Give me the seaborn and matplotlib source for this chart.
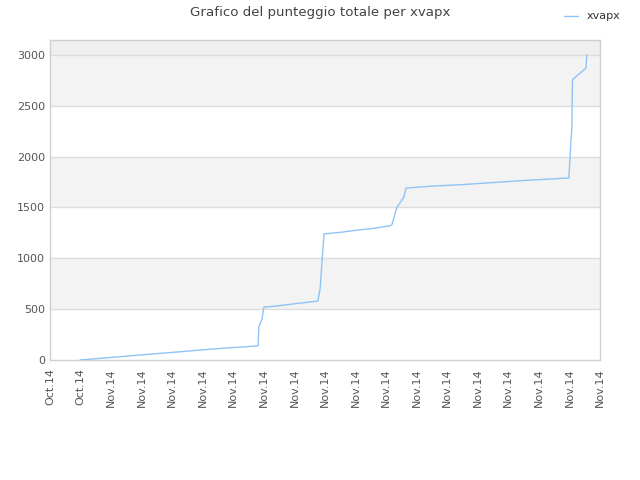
import numpy as np
import pandas as pd
import matplotlib
matplotlib.use("Agg")
import matplotlib.pyplot as plt
import seaborn as sns

# data (x in tick units, y = total score)
x_pos = [0.98, 1.37, 1.80, 2.19, 2.60, 2.98, 3.40, 3.80, 4.22, 4.61, 5.03, 5.42, 5.89, 6.38, 6.81,
         6.84, 6.94, 7.00, 7.40, 7.80, 8.20, 8.77,
         8.84, 8.90, 8.97, 9.50, 10.00, 10.60, 11.13,
         11.19, 11.26, 11.35, 11.58, 11.65, 12.50, 13.50, 14.50, 15.50, 16.98,
         17.02, 17.08, 17.10, 17.11, 17.54, 17.57]
score = [0, 10, 20, 30, 40, 50, 60, 70, 80, 90, 100, 110, 120, 130, 140,
         330, 400, 520, 530, 545, 560, 580,
         700, 950, 1240, 1255, 1275, 1295, 1320,
         1330, 1400, 1500, 1600, 1690, 1710, 1725, 1745, 1765, 1790,
         2000, 2300, 2750, 2760, 2870, 3000]
tick_labels = ["Oct.14", "Oct.14"] + ["Nov.14"] * 17
player = "xvapx"

df = pd.DataFrame({"x": x_pos, "score": score})

sns.set_style("white")
plt.rcParams['font.family'] = ['DejaVu Sans']

fig = plt.figure(figsize=(6.4, 4.8), dpi=100)
ax = fig.add_axes([0.078, 0.25, 0.8595, 0.6667])

ymax = 3147
for lo, hi in [(500, 1000), (1500, 2000), (2500, 3000)]:
    ax.axhspan(lo, hi, color="#f3f3f3", zorder=0, lw=0)
ax.axhspan(3000, ymax, color="#efefef", zorder=0, lw=0)
for yv in [500, 1000, 1500, 2000, 2500, 3000]:
    ax.axhline(yv, color="#dddddd", lw=1, zorder=1)

sns.lineplot(data=df, x="x", y="score", ax=ax, sort=False, estimator=None,
             color="#90c3f5", lw=1, label=player, zorder=3)

ax.set_xlim(0, 18)
ax.set_ylim(0, ymax)
ax.set_xticks(range(len(tick_labels)))
ax.set_xticklabels(tick_labels, rotation=90, fontsize=8, color="#555555")
ax.set_yticks([0, 500, 1000, 1500, 2000, 2500, 3000])
ax.tick_params(axis="y", labelsize=8, colors="#555555", length=0)
ax.tick_params(axis="x", length=0, pad=6)
for t in ax.get_yticklabels():
    t.set_color("#555555")
ax.set_xlabel("")
ax.set_ylabel("")
for s in ax.spines.values():
    s.set_color("#d0d0d0")
    s.set_linewidth(1)

fig.suptitle("Grafico del punteggio totale per xvapx", fontsize=9.6, color="#444444", y=0.987)
ax.legend(loc="upper right", bbox_to_anchor=(0.985, 0.997), bbox_transform=fig.transFigure,
          frameon=False, fontsize=8, handlelength=1.2, labelcolor="#333333")

fig.savefig("out.png", dpi=100)
